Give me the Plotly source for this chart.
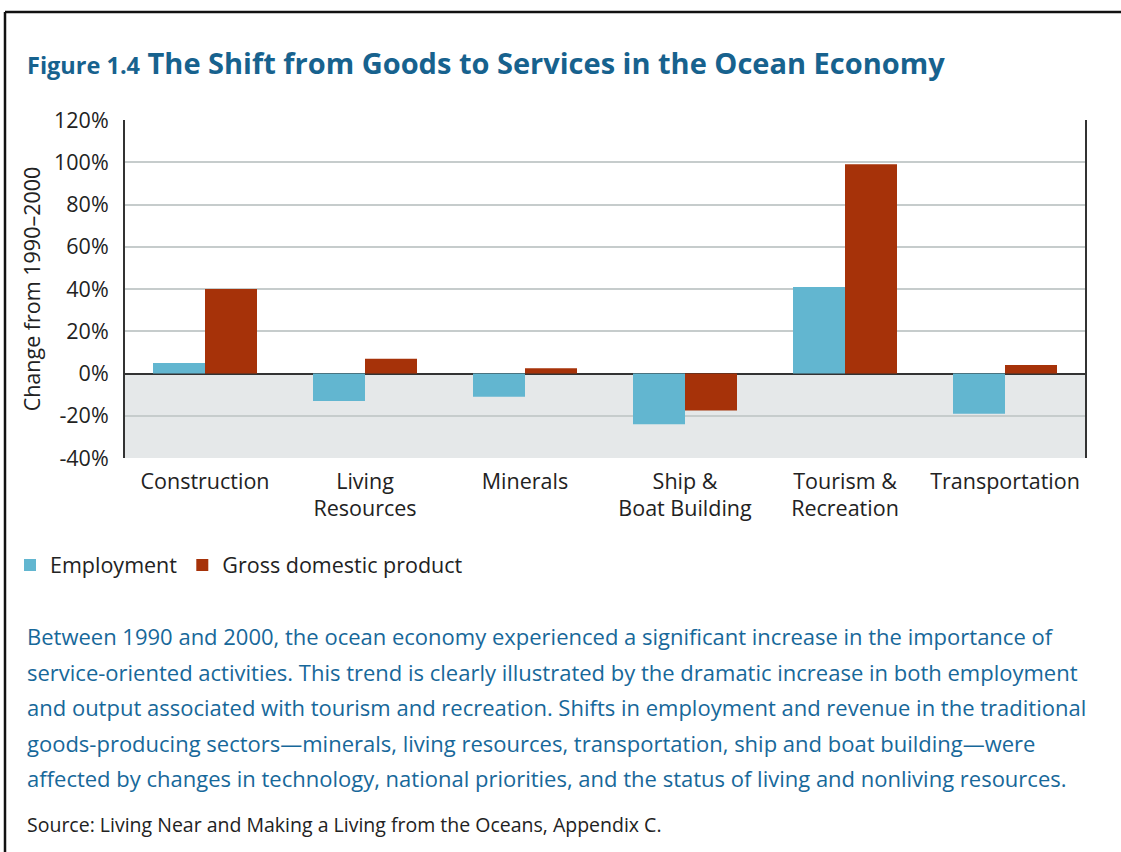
import plotly.graph_objects as go

categories = ["Construction", "Living<br>Resources", "Minerals", "Ship &<br>Boat Building",
              "Tourism &<br>Recreation", "Transportation"]
employment = [5, -13, -11, -24, 41, -19]
gdp = [40, 7, 2.5, -17.5, 99, 4]
tick_vals = [-40, -20, 0, 20, 40, 60, 80, 100, 120]
tick_text = ["-40%", "-20%", "0%", "20%", "40%", "60%", "80%", "100%", "120%"]

caption_lines = [
    "Between 1990 and 2000, the ocean economy experienced a significant increase in the importance of",
    "service-oriented activities. This trend is clearly illustrated by the dramatic increase in both employment",
    "and output associated with tourism and recreation. Shifts in employment and revenue in the traditional",
    "goods-producing sectors\u2014minerals, living resources, transportation, ship and boat building\u2014were",
    "affected by changes in technology, national priorities, and the status of living and nonliving resources.",
]

W, H = 1121, 852
FONT = "Open Sans"
BLUE_TXT = "#17689A"

def px(x):
    return x / W

def py(y):
    return 1 - y / H

fig = go.Figure()
fig.add_trace(go.Bar(x=categories, y=employment, name="Employment",
                     marker=dict(color="#62B6D0", line=dict(width=0))))
fig.add_trace(go.Bar(x=categories, y=gdp, name="Gross domestic product",
                     marker=dict(color="#A63209", line=dict(width=0))))

shapes = [
    dict(type="rect", xref="x domain", yref="y", x0=0, x1=1, y0=-40, y1=0,
         fillcolor="#E5E8E9", line=dict(width=0), layer="below"),
    dict(type="line", xref="paper", yref="paper", x0=px(5), x1=1, y0=py(12), y1=py(12),
         line=dict(color="#111", width=2.5)),
    dict(type="line", xref="paper", yref="paper", x0=px(5), x1=px(5), y0=py(12), y1=0,
         line=dict(color="#111", width=2.5)),
]

annotations = [
    dict(xref="paper", yref="paper", x=px(25), y=py(62), xanchor="left", yanchor="middle",
         showarrow=False,
         text="<b><span style='font-size:23.5px'>Figure 1.4</span> The Shift from Goods to Services in the Ocean Economy</b>",
         font=dict(family=FONT, size=29, color="#17628E")),
    dict(xref="paper", yref="paper", x=px(25), y=py(824), xanchor="left", yanchor="middle",
         showarrow=False, text="Source: Living Near and Making a Living from the Oceans, Appendix C.",
         font=dict(family=FONT, size=19.5, color="#222")),
]
for i, line in enumerate(caption_lines):
    annotations.append(dict(xref="paper", yref="paper", x=px(25), y=py(636 + i * 35.6),
                            xanchor="left", yanchor="middle", showarrow=False, text=line,
                            font=dict(family=FONT, size=22, color=BLUE_TXT)))

fig.update_layout(
    width=W, height=H,
    margin=dict(l=0, r=0, t=0, b=0, autoexpand=False),
    paper_bgcolor="white", plot_bgcolor="white",
    barmode="group", bargap=0.35, bargroupgap=0,
    font=dict(family=FONT, size=21, color="#222"),
    showlegend=True,
    legend=dict(orientation="h", x=px(10), y=py(565), xanchor="left", yanchor="middle",
                font=dict(family=FONT, size=21.5, color="#222"), itemsizing="constant",
                traceorder="normal"),
    shapes=shapes,
    annotations=annotations,
    xaxis=dict(domain=[px(125), px(1085)], showgrid=False, ticks="", tickfont=dict(size=21.5),
               ticklabelstandoff=8),
    yaxis=dict(domain=[py(458), py(120)], range=[-40, 120], tickvals=tick_vals, ticktext=tick_text,
               showgrid=True, gridcolor="#C6CCCC", gridwidth=1.5,
               zeroline=True, zerolinecolor="#333", zerolinewidth=1.5,
               showline=True, linecolor="#333", linewidth=2, mirror=True,
               ticks="", ticklabelstandoff=10, tickfont=dict(size=21.5),
               title=dict(text="Change from 1990\u20132000", font=dict(size=21.5), standoff=8)),
)

fig.write_html("out.html", config={"displayModeBar": False},
               post_script="document.body.style.margin='0';document.body.style.overflow='hidden';")
